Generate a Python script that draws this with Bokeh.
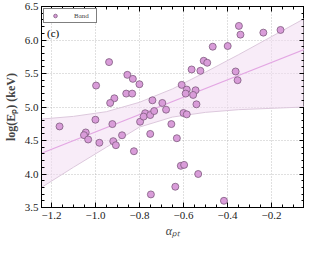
from bokeh.plotting import figure
from bokeh.models import (LinearAxis, Range1d, Label, Legend, LegendItem,
                          SingleIntervalTicker, CustomJSTickFormatter, ColumnDataSource)
from bokeh.embed import file_html
from bokeh.resources import INLINE

# ---- data ----
alpha_pt = [-0.938, -0.997, -0.855, -0.830, -0.860, -0.833, -0.914, -0.933, -0.800, -0.741,
            -0.467, -0.399, -0.508, -0.492, -0.563, -0.523, -0.608, -0.585, -0.545, -0.590,
            -0.556, -0.541, -0.348, -0.341, -0.237, -0.159, -0.363, -0.354, -0.696, -0.679,
            -0.600, -0.585, -1.163, -1.000, -0.923, -1.044, -1.052, -1.033, -0.982, -0.879,
            -0.919, -0.907, -0.825, -0.797, -0.774, -0.781, -0.751, -0.733, -0.655, -0.751,
            -0.630, -0.612, -0.597, -0.533, -0.637, -0.748, -0.416]
log_ep = [5.67, 5.32, 5.48, 5.42, 5.20, 5.20, 5.13, 5.06, 5.34, 5.10,
          5.90, 5.91, 5.69, 5.66, 5.56, 5.54, 5.33, 5.26, 5.25, 5.20,
          5.18, 5.04, 6.21, 6.08, 6.11, 6.15, 5.53, 5.40, 5.06, 4.96,
          4.91, 4.89, 4.71, 4.81, 4.745, 4.62, 4.58, 4.515, 4.466, 4.578,
          4.49, 4.43, 4.34, 4.78, 4.907, 4.857, 4.88, 4.94, 4.745, 4.598,
          4.534, 4.122, 4.136, 4.00, 3.81, 3.695, 3.60]

fit_x = [-1.245, -0.05]
fit_y = [4.31, 5.858]

band_x = [-1.245, -1.1, -0.95, -0.8, -0.65, -0.5, -0.35, -0.2, -0.05]
band_upper = [4.82, 4.86, 4.93, 5.07, 5.27, 5.52, 5.78, 6.05, 6.32]
band_lower = [3.80, 4.10, 4.40, 4.70, 4.85, 4.92, 4.96, 4.98, 5.00]

series_label = "Band"
panel_label = "(c)"

FONT = "Liberation Serif"

p = figure(width=304, height=240, output_backend="svg", toolbar_location=None,
           x_range=Range1d(-1.245, -0.05), y_range=Range1d(3.5, 6.5),
           min_border_left=4, min_border_right=0, min_border_top=6, min_border_bottom=4)
p.outline_line_color = "black"
p.outline_line_width = 1

fmt = CustomJSTickFormatter(code="return tick.toFixed(1).replace('-', '\u2212');")
blank = CustomJSTickFormatter(code="return '';")

xt = SingleIntervalTicker(interval=0.2, num_minor_ticks=4)
yt = SingleIntervalTicker(interval=0.5, num_minor_ticks=5)

def style_axis(ax, labels=True):
    ax.major_tick_in = 5
    ax.major_tick_out = 0
    ax.minor_tick_in = 3
    ax.minor_tick_out = 0
    ax.axis_line_color = "black"
    ax.major_tick_line_color = "black"
    ax.minor_tick_line_color = "black"
    if labels:
        ax.major_label_text_font = FONT
        ax.major_label_text_font_size = "11px"
        ax.major_label_text_color = "#222222"
        ax.major_label_standoff = 3
        ax.formatter = fmt
    else:
        ax.formatter = blank
        ax.major_label_standoff = 0

p.xaxis.ticker = xt
p.yaxis.ticker = yt
style_axis(p.xaxis[0])
style_axis(p.yaxis[0])
p.xaxis[0].major_label_standoff = 4

p.xaxis.axis_label = "\u03b1\u209a\u209c"
p.xaxis.axis_label_text_font = FONT
p.xaxis.axis_label_text_font_size = "12px"
p.xaxis.axis_label_text_font_style = "italic"
p.xaxis.axis_label_standoff = 2

p.yaxis.axis_label = "log(E\u209a) (keV)"
p.yaxis.axis_label_text_font = FONT
p.yaxis.axis_label_text_font_size = "12px"
p.yaxis.axis_label_text_font_style = "bold"
p.yaxis.axis_label_standoff = 4

top = LinearAxis(ticker=xt)
right = LinearAxis(ticker=yt)
style_axis(top, labels=False)
style_axis(right, labels=False)
p.add_layout(top, "above")
p.add_layout(right, "right")

p.xgrid.ticker = xt
p.ygrid.ticker = yt
p.grid.grid_line_color = "#b0b0b0"
p.grid.grid_line_dash = "1 2"
p.grid.grid_line_width = 0.8

band_src = ColumnDataSource(dict(x=band_x, lo=band_lower, hi=band_upper))
p.varea(x="x", y1="lo", y2="hi", source=band_src, fill_color="#f3dcf3", fill_alpha=0.55)
p.line(x="x", y="hi", source=band_src, line_color="#dcc8dc", line_width=1)
p.line(x="x", y="lo", source=band_src, line_color="#dcc8dc", line_width=1)
p.line(fit_x, fit_y, line_color="#e3a6e3", line_width=1.2)

pts = p.scatter(alpha_pt, log_ep, size=7, fill_color="#d99cd9", line_color="#7d5a7d",
                line_width=0.8)

legend = Legend(items=[LegendItem(label=series_label, renderers=[pts])],
                location="top_left")
legend.label_text_font = FONT
legend.label_text_font_size = "7px"
legend.label_height = 9
legend.glyph_height = 9
legend.glyph_width = 18
legend.padding = 2
legend.margin = 2
legend.spacing = 0
legend.label_standoff = 10
legend.border_line_color = "black"
legend.border_line_width = 1
legend.background_fill_alpha = 1
p.add_layout(legend)

p.add_layout(Label(x=-1.22, y=6.10, text=panel_label, text_font=FONT,
                   text_font_size="11px", text_baseline="middle", text_color="black"))

open("out.html", "w").write(file_html(p, INLINE))
